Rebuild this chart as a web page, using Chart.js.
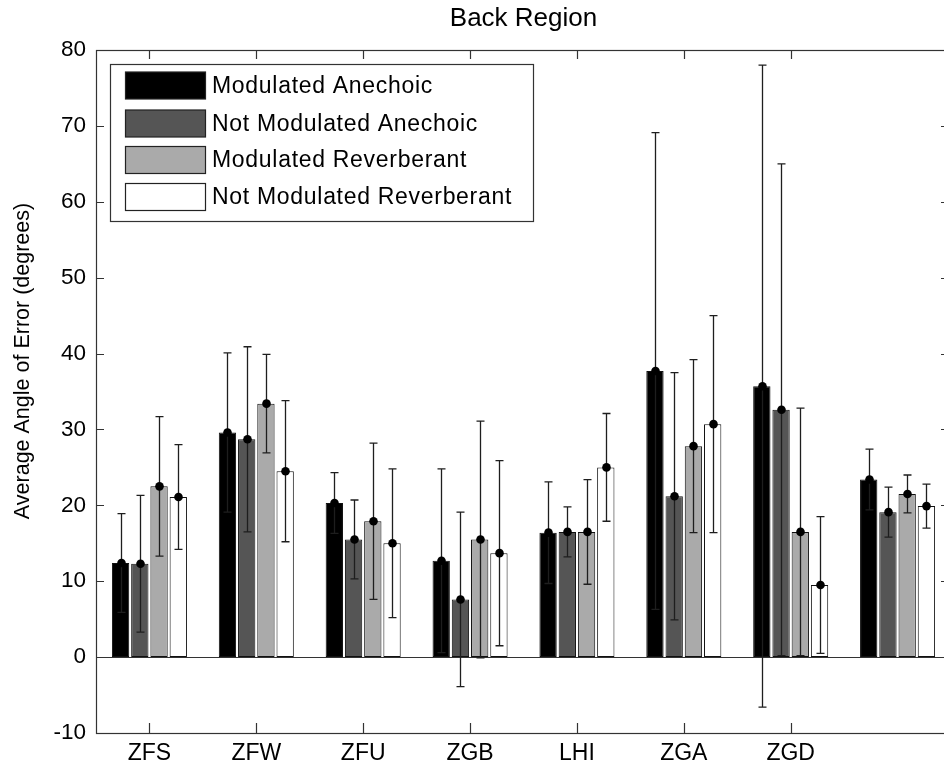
<!DOCTYPE html>
<html>
<head>
<meta charset="utf-8">
<script src="https://cdn.jsdelivr.net/npm/chart.js@4/dist/chart.umd.min.js"></script>
<style>
    body { margin: 0; overflow: hidden; background: #fff; }
    #wrap { position: relative; width: 960px; height: 770px; }
</style>
</head>
<body>
<div id="wrap"><canvas id="backChart"></canvas></div>
<script>
"use strict";

// groups along x (last group has no label)
const groups = ["ZFS", "ZFW", "ZFU", "ZGB", "LHI", "ZGA", "ZGD", ""];

const seriesNames = [
    "Modulated Anechoic",
    "Not Modulated Anechoic",
    "Modulated Reverberant",
    "Not Modulated Reverberant",
];

// mean angle of error per group
const modAnechoic = [12.4, 29.6, 20.3, 12.7, 16.4, 37.7, 35.7, 23.4];
const notModAnechoic = [12.3, 28.7, 15.5, 7.6, 16.5, 21.2, 32.6, 19.1];
const modReverb = [22.5, 33.4, 17.9, 15.5, 16.5, 27.8, 16.5, 21.5];
const notModReverb = [21.1, 24.5, 15.0, 13.7, 25.0, 30.7, 9.5, 19.9];

// error bar half lengths
const modAnechoicErr = [6.5, 10.5, 4.0, 12.1, 6.7, 31.4, 42.3, 4.0];
const notModAnechoicErr = [9.0, 12.2, 5.2, 11.5, 3.3, 16.3, 32.4, 3.3];
const modReverbErr = [9.2, 6.5, 10.3, 15.6, 6.9, 11.4, 16.3, 2.5];
const notModReverbErr = [6.9, 9.3, 9.8, 12.2, 7.1, 14.3, 9.0, 2.9];

const yTicks = [-10, 0, 10, 20, 30, 40, 50, 60, 70, 80];

const fillColors = ["#000000", "#555555", "#aaaaaa", "#ffffff"];
const allValues = [modAnechoic, notModAnechoic, modReverb, notModReverb];
const allErrors = [modAnechoicErr, notModAnechoicErr, modReverbErr, notModReverbErr];

const FONT = "'Liberation Sans', Arial, sans-serif";
const AXIS_COLOR = "#333333";

// matlab style box, inward ticks, baseline, error bars, legend, ylabel
const matlabLook = {
    id: "matlabLook",
    afterDatasetsDraw(chart) {
        const ctx = chart.ctx;
        const x = chart.scales.x;
        const y = chart.scales.y;
        const area = chart.chartArea;

        // baseline at zero
        ctx.save();
        ctx.strokeStyle = AXIS_COLOR;
        ctx.lineWidth = 1.2;
        ctx.beginPath();
        ctx.moveTo(area.left, Math.round(y.getPixelForValue(0)) + 0.5);
        ctx.lineTo(area.right, Math.round(y.getPixelForValue(0)) + 0.5);
        ctx.stroke();

        // error bars
        chart.data.datasets.forEach((ds, i) => {
            const meta = chart.getDatasetMeta(i);
            meta.data.forEach((bar, j) => {
                const v = ds.data[j];
                const e = allErrors[i][j];
                const px = Math.round(bar.x) + 0.5;
                const top = y.getPixelForValue(v + e);
                const bot = y.getPixelForValue(v - e);
                ctx.strokeStyle = "#1e1e1e";
                ctx.lineWidth = 1.3;
                ctx.beginPath();
                ctx.moveTo(px, top);
                ctx.lineTo(px, bot);
                ctx.moveTo(px - 4, top);
                ctx.lineTo(px + 4, top);
                ctx.moveTo(px - 4, bot);
                ctx.lineTo(px + 4, bot);
                ctx.stroke();
                ctx.fillStyle = "#000";
                ctx.beginPath();
                ctx.arc(px, y.getPixelForValue(v), 4.3, 0, Math.PI * 2);
                ctx.fill();
            });
        });

        // axes box
        ctx.strokeStyle = AXIS_COLOR;
        ctx.lineWidth = 1.2;
        ctx.strokeRect(area.left + 0.5, area.top + 0.5, area.right - area.left, area.bottom - area.top);

        // inward ticks
        ctx.beginPath();
        x.ticks.forEach((t, k) => {
            const px = Math.round(x.getPixelForTick(k)) + 0.5;
            if (groups[k] === "") return;
            ctx.moveTo(px, area.bottom);
            ctx.lineTo(px, area.bottom - 10);
            ctx.moveTo(px, area.top);
            ctx.lineTo(px, area.top + 9);
        });
        yTicks.forEach((t) => {
            const py = Math.round(y.getPixelForValue(t)) + 0.5;
            ctx.moveTo(area.left, py);
            ctx.lineTo(area.left + 8, py);
            ctx.moveTo(area.right, py);
            ctx.lineTo(area.right - 10, py);
        });
        ctx.stroke();
        ctx.restore();
    },
    afterDraw(chart) {
        const ctx = chart.ctx;
        const area = chart.chartArea;

        // legend
        ctx.save();
        const lx = area.left + 14;
        const ly = area.top + 14;
        ctx.fillStyle = "#fff";
        ctx.fillRect(lx, ly, 423, 157);
        ctx.strokeStyle = AXIS_COLOR;
        ctx.lineWidth = 1.2;
        ctx.strokeRect(lx + 0.5, ly + 0.5, 423, 157);
        ctx.font = "23px " + FONT;
        ctx.letterSpacing = "0.7px";
        ctx.textBaseline = "middle";
        ctx.textAlign = "left";
        const rowsY = [21.5, 59.5, 96, 133];
        chart.data.datasets.forEach((ds, i) => {
            const cy = ly + rowsY[i];
            ctx.fillStyle = ds.backgroundColor;
            ctx.fillRect(lx + 15, cy - 13.5, 80, 27);
            ctx.strokeStyle = "#222";
            ctx.lineWidth = 1.2;
            ctx.strokeRect(lx + 15.5, cy - 13.5, 80, 27);
            ctx.fillStyle = "#000";
            ctx.fillText(ds.label, lx + 102, cy + 1);
        });
        ctx.restore();

        // y label
        ctx.save();
        ctx.translate(23, 361);
        ctx.rotate(-Math.PI / 2);
        ctx.font = "21.5px " + FONT;
        ctx.fillStyle = "#000";
        ctx.textAlign = "center";
        ctx.textBaseline = "middle";
        ctx.fillText("Average Angle of Error (degrees)", 0, 0);
        ctx.restore();
    },
};

const ctxBack = document.getElementById("backChart");

const backChart = new Chart(ctxBack, {
    type: "bar",
    data: {
        labels: groups,
        datasets: seriesNames.map((name, i) => ({
            label: name,
            data: allValues[i],
            backgroundColor: fillColors[i],
            borderColor: "#111",
            borderWidth: 1,
            borderSkipped: false,
            categoryPercentage: 0.72,
            barPercentage: 0.9,
        })),
    },
    options: {
        responsive: true,
        maintainAspectRatio: false,
        animation: false,
        layout: {
            padding: { top: 0, right: 9, bottom: 0, left: 0 },
        },
        plugins: {
            legend: { display: false },
            tooltip: { enabled: false },
            title: {
                display: true,
                text: "Back Region",
                fullSize: false,
                color: "#000",
                font: { family: FONT, size: 26, weight: "normal", lineHeight: 1.2 },
                padding: { top: 3, bottom: 15.8 },
            },
        },
        scales: {
            x: {
                grid: { display: false, drawTicks: false },
                border: { display: false },
                ticks: {
                    color: "#000",
                    font: { family: FONT, size: 23 },
                    padding: 7,
                    maxRotation: 0,
                    autoSkip: false,
                },
                afterFit(scale) {
                    scale.height = 37;
                },
            },
            y: {
                min: -10,
                max: 80,
                grid: { display: false, drawTicks: false },
                border: { display: false },
                afterBuildTicks(scale) {
                    scale.ticks = yTicks.map((v) => ({ value: v }));
                },
                ticks: {
                    color: "#000",
                    font: { family: FONT, size: 22.5 },
                    padding: 10,
                },
                afterFit(scale) {
                    scale.width = 96;
                },
            },
        },
    },
    plugins: [matlabLook],
});
</script>
</body>
</html>
